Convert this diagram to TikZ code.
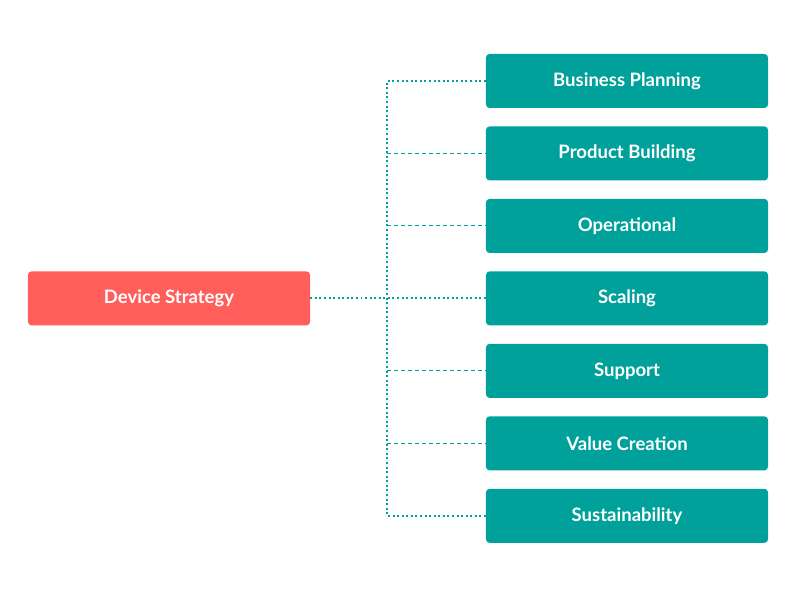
\documentclass[tikz,border=0pt]{standalone}
\usepackage{fontspec}
\setmainfont{Lato}
\usetikzlibrary{positioning, calc}
\definecolor{rootred}{HTML}{FF5E5B}
\definecolor{branchteal}{HTML}{00A19A}
\tikzset{
    dotline/.style={draw, branchteal, line width=1.7pt, dash pattern=on 1.7pt off 2.2pt},
    dashline/.style={draw, branchteal, line width=0.85pt, dash pattern=on 3.4pt off 2.6pt}
}
\begin{document}
\begin{tikzpicture}[
    x=0.03cm, y=-0.03cm,
    node distance=0.54cm,
    branch/.style={rectangle, fill=branchteal, rounded corners=3pt, minimum width=8.46cm, minimum height=1.62cm, text=white, font=\bfseries\fontsize{15.8}{18}\selectfont},
    root/.style={branch, fill=rootred}
]
    \useasboundingbox (0,0) rectangle (800,600);

    \node[branch] (planning) at (627,81) {Business Planning};
    \node[branch, below=of planning] (building) {Product Building};
    \node[branch, below=of building] (operational) {Operational};
    \node[branch, below=of operational] (scaling) {Scaling};
    \node[branch, below=of scaling] (support) {Support};
    \node[branch, below=of support] (value) {Value Creation};
    \node[branch, below=of value] (sustain) {Sustainability};

    \node[root] (device) at (169,0 |- scaling) {Device Strategy};

    \coordinate (trunk) at (387,0 |- scaling);

    % trunk and outer branches
    \draw[dotline] (device.east) -- (scaling.west);
    \draw[dotline] (planning.west) -- (trunk |- planning) -- (trunk |- sustain) -- (sustain.west);

    % inner branches
    \foreach \n in {building, operational, support, value}
        \draw[dashline] (trunk |- \n) -- (\n.west);

\end{tikzpicture}
\end{document}
